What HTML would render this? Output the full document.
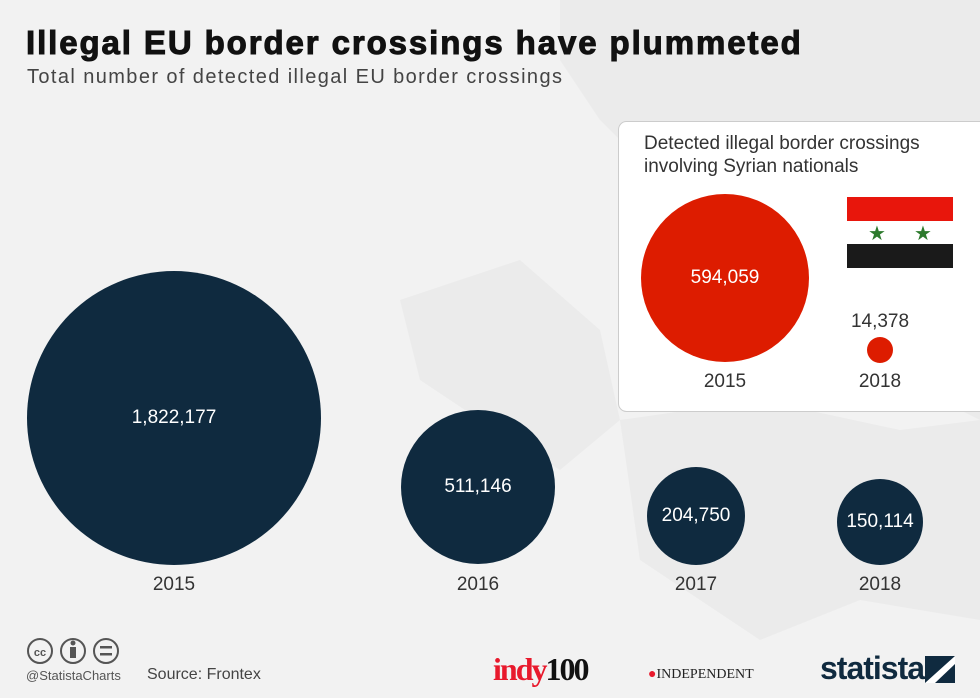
<!DOCTYPE html><html><head><style>
body{margin:0;width:980px;height:698px;background:#f2f2f2;font-family:"Liberation Sans",sans-serif;position:relative;overflow:hidden}
.t{position:absolute;white-space:nowrap}
</style></head><body>
<svg width="980" height="698" style="position:absolute;left:0;top:0">
<g fill="#ebebeb">
<path d="M560 0 L980 0 L980 420 L900 380 L840 300 L760 240 L700 200 L640 160 L600 120 L560 60Z"/>
<path d="M400 300 L520 260 L600 330 L620 420 L560 470 L480 420 L420 380Z"/>
<path d="M620 420 L760 400 L900 430 L980 420 L980 620 L860 600 L760 640 L700 600 L640 560Z"/>
</g>
<circle cx="174" cy="418" r="147" fill="#0f2a3f"/>
<circle cx="478" cy="487" r="77" fill="#0f2a3f"/>
<circle cx="696" cy="516" r="49" fill="#0f2a3f"/>
<circle cx="880" cy="522" r="43" fill="#0f2a3f"/>
<rect x="618.5" y="121.5" width="375" height="290" rx="8" fill="#fff" stroke="#ccc"/>
<circle cx="725" cy="278" r="84" fill="#dd1c00"/>
<circle cx="880" cy="350" r="13" fill="#dd1c00"/>
<rect x="847" y="197" width="106" height="24" fill="#e8160c"/>
<rect x="847" y="221" width="106" height="23" fill="#fff"/>
<rect x="847" y="244" width="106" height="24" fill="#1a1a1a"/>
<text x="877" y="240" font-size="20" fill="#2c7a2c" text-anchor="middle">★</text>
<text x="923" y="240" font-size="20" fill="#2c7a2c" text-anchor="middle">★</text>
<g fill="none" stroke="#555" stroke-width="2"><circle cx="40" cy="651" r="12"/><circle cx="73" cy="651" r="12"/><circle cx="106" cy="651" r="12"/></g>
<text x="40" y="656" font-size="11" font-weight="bold" fill="#555" text-anchor="middle">cc</text>
<rect x="70" y="647" width="6" height="11" fill="#555"/><circle cx="73" cy="643" r="2.5" fill="#555"/>
<rect x="100" y="646" width="12" height="2.5" fill="#555"/><rect x="100" y="653" width="12" height="2.5" fill="#555"/>
<rect x="925" y="656" width="30" height="27" fill="#0f2a3f"/>
<path d="M925 683 L955 656 L955 664 L935 683Z" fill="#fff"/>
</svg>
<div class="t" style="left:26px;top:24px;font-size:33px;font-weight:bold;color:#111;letter-spacing:1.9px;-webkit-text-stroke:1px #111">Illegal EU border crossings have plummeted</div>
<div class="t" style="left:27px;top:66px;font-size:20px;color:#444;letter-spacing:1.4px">Total number of detected illegal EU border crossings</div>
<div class="t" style="left:644px;top:132px;font-size:19px;color:#333;line-height:23px">Detected illegal border crossings<br>involving Syrian nationals</div>
<div class="t" style="left:174px;top:418px;transform:translate(-50%,-50%);color:#fff;font-size:19px">1,822,177</div>
<div class="t" style="left:478px;top:487px;transform:translate(-50%,-50%);color:#fff;font-size:19px">511,146</div>
<div class="t" style="left:696px;top:516px;transform:translate(-50%,-50%);color:#fff;font-size:19px">204,750</div>
<div class="t" style="left:880px;top:522px;transform:translate(-50%,-50%);color:#fff;font-size:19px">150,114</div>
<div class="t" style="left:725px;top:278px;transform:translate(-50%,-50%);color:#fff;font-size:19px">594,059</div>
<div class="t" style="left:880px;top:322px;transform:translate(-50%,-50%);color:#333;font-size:19px">14,378</div>
<div class="t" style="left:725px;top:382px;transform:translate(-50%,-50%);color:#333;font-size:19px">2015</div>
<div class="t" style="left:880px;top:382px;transform:translate(-50%,-50%);color:#333;font-size:19px">2018</div>
<div class="t" style="left:174px;top:585px;transform:translate(-50%,-50%);color:#333;font-size:19px">2015</div>
<div class="t" style="left:478px;top:585px;transform:translate(-50%,-50%);color:#333;font-size:19px">2016</div>
<div class="t" style="left:696px;top:585px;transform:translate(-50%,-50%);color:#333;font-size:19px">2017</div>
<div class="t" style="left:880px;top:585px;transform:translate(-50%,-50%);color:#333;font-size:19px">2018</div>
<div class="t" style="left:26px;top:668px;font-size:13px;color:#555">@StatistaCharts</div>
<div class="t" style="left:147px;top:666px;font-size:16px;color:#444">Source: Frontex</div>
<div class="t" style="left:493px;top:651px;font-size:32px;font-weight:bold;color:#e8192c;letter-spacing:-2px;font-family:'Liberation Serif',serif">indy<span style="color:#111">100</span></div>
<div class="t" style="left:648px;top:667px;font-size:14px;color:#222;font-family:'Liberation Serif',serif"><span style="color:#e8192c">●</span>INDEPENDENT</div>
<div class="t" style="left:820px;top:650px;font-size:32px;font-weight:bold;color:#0f2a3f;letter-spacing:-1px">statista</div>
</body></html>
